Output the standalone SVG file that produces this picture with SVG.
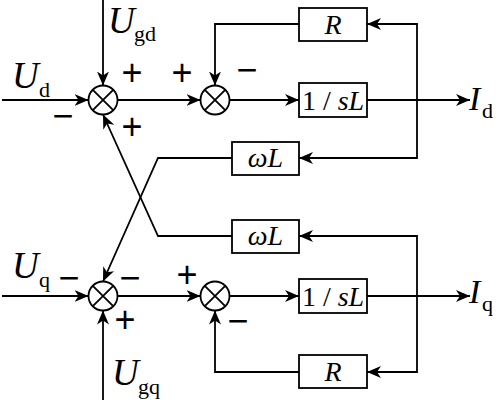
<svg xmlns="http://www.w3.org/2000/svg" width="498" height="400" viewBox="0 0 498 400">
<style>
  .ln{fill:none;stroke:#000;stroke-width:1.8}
  .box{fill:#fff;stroke:#000;stroke-width:1.8}
  .sum{fill:#fff;stroke:#000;stroke-width:1.8}
  .bt{font-family:"Liberation Serif",serif;font-size:28px;text-anchor:middle}
  .it{font-style:italic}
  .big{font-family:"Liberation Serif",serif;font-size:37px;font-style:italic}
  .bigI{font-family:"Liberation Serif",serif;font-size:34px;font-style:italic}
  .sub{font-family:"Liberation Serif",serif;font-size:22px;font-style:normal}
  .sg{font-family:"Liberation Sans",sans-serif;font-size:36px;text-anchor:middle}
</style>
<defs>
  <marker id="ah" viewBox="0 0 14 12" refX="14" refY="6" markerWidth="14" markerHeight="12" markerUnits="userSpaceOnUse" orient="auto">
    <path d="M0,0 L14,6 L0,12 L4,6 Z" fill="#000"/>
  </marker>
  <g id="sumShape">
    <circle r="14.5" class="sum"/>
    <path d="M-10.2,-10.2 L10.2,10.2 M10.2,-10.2 L-10.2,10.2" class="ln"/>
  </g>
</defs>
<g id="connectors">
  <path class="ln" marker-end="url(#ah)" d="M2,100 H88.5"/>
  <path class="ln" marker-end="url(#ah)" d="M103,0 V85.5"/>
  <path class="ln" marker-end="url(#ah)" d="M117.5,100 H200.5"/>
  <path class="ln" marker-end="url(#ah)" d="M229.5,100 H299"/>
  <path class="ln" marker-end="url(#ah)" d="M367,100 H470"/>
  <path class="ln" marker-end="url(#ah)" d="M417,100 V24 H367"/>
  <path class="ln" marker-end="url(#ah)" d="M417,100 V158 H299"/>
  <path class="ln" marker-end="url(#ah)" d="M299,24 H215 V85.5"/>
  <path class="ln" marker-end="url(#ah)" d="M232,158 H158 L103,281.5"/>
  <path class="ln" marker-end="url(#ah)" d="M232,236 H158 L103,114.5"/>
  <path class="ln" marker-end="url(#ah)" d="M2,296 H88.5"/>
  <path class="ln" marker-end="url(#ah)" d="M103,400 V310.5"/>
  <path class="ln" marker-end="url(#ah)" d="M117.5,296 H200.5"/>
  <path class="ln" marker-end="url(#ah)" d="M229.5,296 H299"/>
  <path class="ln" marker-end="url(#ah)" d="M367,296 H470"/>
  <path class="ln" marker-end="url(#ah)" d="M417,296 V236 H299"/>
  <path class="ln" marker-end="url(#ah)" d="M417,296 V372 H367"/>
  <path class="ln" marker-end="url(#ah)" d="M299,372 H215 V310.5"/>
</g>
<g id="sum1d"><use href="#sumShape" x="103" y="100"/>
  <text class="sg" x="132" y="84.5">+</text><text class="sg" x="63" y="127.5">−</text><text class="sg" x="132" y="138.5">+</text></g>
<g id="sum2d"><use href="#sumShape" x="215" y="100"/>
  <text class="sg" x="182" y="84.5">+</text><text class="sg" x="247" y="81.5">−</text></g>
<g id="sum1q"><use href="#sumShape" x="103" y="296"/>
  <text class="sg" x="69" y="289.5">−</text><text class="sg" x="130" y="289.5">−</text><text class="sg" x="125" y="331.5">+</text></g>
<g id="sum2q"><use href="#sumShape" x="215" y="296"/>
  <text class="sg" x="187" y="286.5">+</text><text class="sg" x="238" y="332.5">−</text></g>
<g id="Rd"><rect class="box" x="299" y="8" width="68" height="33"/><text class="bt it" x="333" y="34">R</text></g>
<g id="sLd"><rect class="box" x="299" y="83" width="68" height="34"/><text class="bt" x="333" y="110">1 / <tspan class="it">sL</tspan></text></g>
<g id="wLd"><rect class="box" x="232" y="142" width="67" height="33"/><text class="bt it" x="265.5" y="167">ωL</text></g>
<g id="wLq"><rect class="box" x="232" y="220" width="67" height="33"/><text class="bt it" x="265.5" y="245">ωL</text></g>
<g id="sLq"><rect class="box" x="299" y="279" width="68" height="34"/><text class="bt" x="333" y="306">1 / <tspan class="it">sL</tspan></text></g>
<g id="Rq"><rect class="box" x="299" y="355" width="68" height="33"/><text class="bt it" x="333" y="381">R</text></g>
<g id="Ud"><text class="big" x="12" y="88">U</text><text class="sub" x="39" y="97">d</text></g>
<g id="Ugd"><text class="big" x="108" y="33">U</text><text class="sub" x="134" y="41">gd</text></g>
<g id="Id"><text class="bigI" x="469" y="110">I</text><text class="sub" x="482" y="118">d</text></g>
<g id="Uq"><text class="big" x="12" y="278">U</text><text class="sub" x="39" y="287">q</text></g>
<g id="Ugq"><text class="big" x="112" y="385">U</text><text class="sub" x="138" y="394">gq</text></g>
<g id="Iq"><text class="bigI" x="469" y="303">I</text><text class="sub" x="482" y="311">q</text></g>
</svg>
